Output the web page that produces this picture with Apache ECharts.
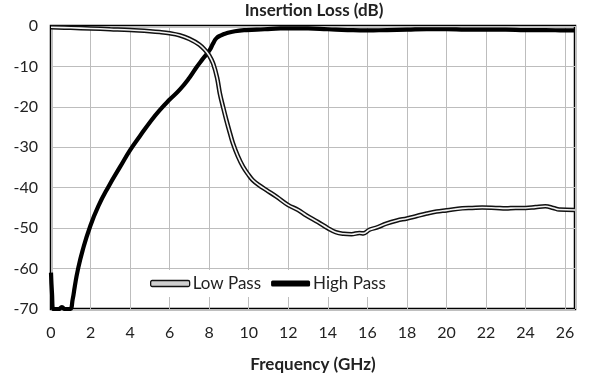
<!DOCTYPE html>
<html>
<head>
<meta charset="utf-8">
<script src="https://cdn.jsdelivr.net/npm/echarts@6/dist/echarts.min.js"></script>
<style>
html,body{margin:0;padding:0;background:#fff;}
#chart{width:605px;height:384px;}
</style>
</head>
<body>
<div id="chart"></div>
<script>
// ---- Data ----
const freqLow = [0, 1, 2, 3, 4, 5, 5.5, 6, 6.5, 7, 7.5, 7.8, 8.0, 8.2, 8.4, 8.54, 8.7, 8.87, 9.05, 9.2, 9.45, 9.71, 10.0, 10.2, 10.5, 10.9, 11.4, 12.0, 12.5, 12.9, 13.5, 14.0, 14.4, 14.8, 15.2, 15.6, 15.8, 16.1, 16.5, 16.95, 17.5, 18.0, 18.5, 19.0, 19.5, 20.0, 20.8, 21.3, 21.8, 22.5, 23.0, 23.5, 24.0, 24.5, 25.0, 25.4, 25.7, 26.5];
const lossLow = [-0.3, -0.45, -0.6, -0.8, -1.0, -1.3, -1.5, -1.8, -2.3, -3.2, -4.6, -6.0, -7.3, -9.3, -12.8, -16.7, -20, -23.3, -26.5, -29, -32.2, -34.8, -36.9, -38.1, -39.3, -40.6, -42.2, -44.3, -45.5, -46.8, -48.5, -50.0, -51.0, -51.4, -51.5, -51.2, -51.3, -50.4, -49.8, -48.9, -48.1, -47.6, -47.0, -46.4, -45.9, -45.6, -45.1, -45.0, -44.9, -45.0, -45.1, -45.0, -45.0, -44.8, -44.6, -45.0, -45.4, -45.5];

const freqHigh = [0, 0.05, 0.12, 0.4, 0.55, 0.7, 0.95, 1.1, 1.2, 1.35, 1.6, 1.97, 2.4, 2.9, 3.5, 4.0, 4.5, 5.08, 5.5, 6.0, 6.5, 7.0, 7.36, 7.7, 8.03, 8.2, 8.37, 8.6, 8.87, 9.3, 9.88, 10.8, 11.6, 13, 14, 15, 16, 17, 18, 19, 20, 21, 22, 23, 24, 25, 26, 26.5];
const lossHigh = [-61, -66, -70, -70, -69.5, -70, -70, -67.5, -64.5, -60.5, -55.5, -49.7, -44.5, -39.8, -34.8, -30.7, -27.2, -23.3, -20.8, -18.2, -15.8, -12.8, -10.2, -8.0, -5.9, -4.3, -3.0, -2.3, -1.8, -1.3, -1.0, -0.8, -0.6, -0.6, -0.8, -1.0, -1.1, -1.0, -0.9, -0.8, -0.8, -0.9, -0.9, -0.9, -1.0, -1.0, -1.1, -1.1];

const xTicks = [0, 2, 4, 6, 8, 10, 12, 14, 16, 18, 20, 22, 24, 26];
const yTicks = [0, -10, -20, -30, -40, -50, -60, -70];

const titleText = 'Insertion Loss (dB)';
const xName = 'Frequency (GHz)';
const nameLow = 'Low Pass';
const nameHigh = 'High Pass';

// ---- Build ----
const zip = (xs, ys) => xs.map((x, i) => [x, ys[i]]);
const FONT = 'Lato, "Open Sans", sans-serif';

const chart = echarts.init(document.getElementById('chart'), null, {renderer: 'canvas'});
chart.setOption({
  animation: false,
  backgroundColor: '#fff',
  textStyle: {fontFamily: FONT},
  title: {
    text: titleText,
    left: 314,
    top: 2,
    textAlign: 'center',
    padding: 0,
    textStyle: {fontFamily: FONT, fontSize: 17, fontWeight: 'bold', color: '#222'}
  },
  grid: {
    left: 51, right: 30, top: 26, bottom: 75,
    show: true,
    borderColor: '#000',
    borderWidth: 2.5,
    backgroundColor: 'transparent'
  },
  legend: {
    left: 140,
    top: 270,
    padding: [5, 8, 5, 10],
    backgroundColor: '#fff',
    itemWidth: 39,
    itemHeight: 6,
    itemGap: 10,
    selectedMode: false,
    textStyle: {fontFamily: FONT, fontSize: 17, color: '#222', padding: [0, 0, 0, -2]},
    data: [
      {name: nameLow, icon: 'roundRect', itemStyle: {color: '#cfcfcf', borderColor: '#111', borderWidth: 1.3}},
      {name: nameHigh, icon: 'roundRect', itemStyle: {color: '#000', borderWidth: 0}}
    ]
  },
  xAxis: {
    type: 'value',
    min: 0,
    max: 26.5,
    interval: 2,
    name: xName,
    nameLocation: 'middle',
    nameGap: 47,
    nameTextStyle: {fontFamily: FONT, fontSize: 17, fontWeight: 'bold', color: '#222'},
    axisLine: {show: false},
    axisTick: {show: false},
    axisLabel: {
      margin: 16,
      fontFamily: FONT, fontSize: 16, color: '#222',
      formatter: v => xTicks.includes(v) ? String(v) : ''
    },
    splitLine: {show: true, lineStyle: {color: '#bdbdbd', width: 1}}
  },
  yAxis: {
    type: 'value',
    min: -70,
    max: 0,
    interval: 10,
    axisLine: {show: false},
    axisTick: {show: false},
    axisLabel: {
      margin: 13,
      fontFamily: FONT, fontSize: 16, color: '#222',
      formatter: v => yTicks.includes(v) ? String(v) : ''
    },
    splitLine: {show: true, lineStyle: {color: '#bdbdbd', width: 1}}
  },
  series: [
    {
      name: nameHigh,
      type: 'line',
      data: zip(freqHigh, lossHigh),
      showSymbol: false,
      symbol: 'none',
      smooth: 0.5,
      lineStyle: {color: '#000', width: 4.2},
      itemStyle: {color: '#000'},
      z: 3
    },
    {
      name: nameLow,
      type: 'line',
      data: zip(freqLow, lossLow),
      showSymbol: false,
      symbol: 'none',
      smooth: 0.4,
      lineStyle: {color: '#111', width: 4.6},
      itemStyle: {color: '#cfcfcf'},
      z: 4
    },
    {
      name: nameLow + ' (inner)',
      type: 'line',
      data: zip(freqLow, lossLow),
      showSymbol: false,
      symbol: 'none',
      smooth: 0.4,
      lineStyle: {color: '#f4f4f4', width: 1.6},
      z: 5
    }
  ]
});
</script>
</body>
</html>
